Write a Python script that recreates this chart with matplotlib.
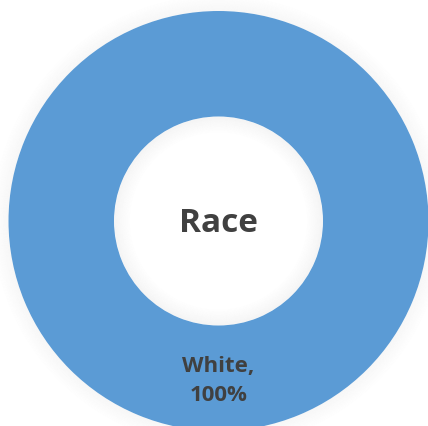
import matplotlib.pyplot as plt
from matplotlib.patches import Wedge

categories = ['White']
values = [100]
colors = ['#5B9BD5']
center_title = 'Race'

fig = plt.figure(figsize=(4.28, 4.26), dpi=100)
ax = fig.add_axes([0, 0, 1, 1])

cx, cy = 218.5, 221
r_out, r_in = 210, 104.5

# soft shadow outside the ring and inside the hole
for i in range(16):
    a = 0.05 * (1 - i / 16)
    ax.add_patch(Wedge((cx, cy), r_out + i + 1, 0, 360, width=1.2, color='#808080', alpha=a, lw=0))
    ax.add_patch(Wedge((cx, cy), r_in - i, 0, 360, width=1.2, color='#808080', alpha=a * 1.3, lw=0))

ax.pie(values, colors=colors, center=(cx, cy), radius=r_out, startangle=90,
       wedgeprops=dict(width=r_out - r_in, linewidth=0))

ax.set_xlim(0, 428)
ax.set_ylim(426, 0)
ax.set_aspect('equal')
ax.axis('off')

ax.text(cx, cy + 2, center_title, ha='center', va='center', fontsize=24,
        fontweight='bold', color='#404040', family='Open Sans')

total = sum(values)
for cat, v in zip(categories, values):
    ax.text(cx, 381, f'{cat},\n{round(v / total * 100)}%', ha='center', va='center',
            fontsize=16, fontweight='bold', color='#404040', family='Open Sans',
            linespacing=1.5)

fig.savefig('out.png', dpi=100)
